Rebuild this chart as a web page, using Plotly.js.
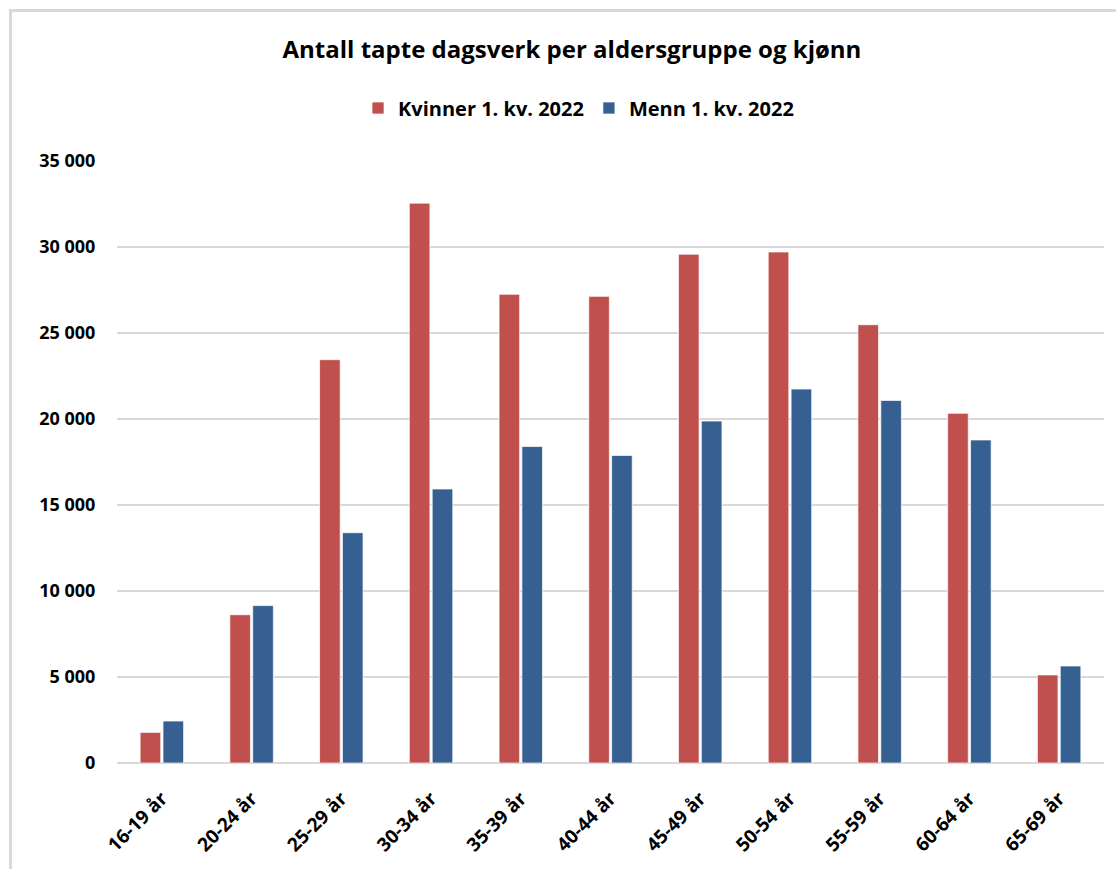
<!DOCTYPE html>
<html>
<head>
<meta charset="utf-8">
<script src="https://cdn.plot.ly/plotly-3.0.1.min.js"></script>
<style>
  html, body { margin: 0; padding: 0; background: #fff; }
  #frame { position: absolute; left: 9px; top: 9px; width: 1107px; height: 860px;
           border-top: 3px solid #d9d9d9; border-left: 3px solid #d9d9d9; }
  #chart { position: absolute; left: 0; top: 0; width: 1116px; height: 869px; }
</style>
</head>
<body>
<div id="frame"></div>
<div id="chart"></div>
<script>
const categories = ["16-19 år", "20-24 år", "25-29 år", "30-34 år", "35-39 år", "40-44 år",
                    "45-49 år", "50-54 år", "55-59 år", "60-64 år", "65-69 år"];
const kvinner = [1780, 8620, 23450, 32550, 27250, 27130, 29580, 29710, 25480, 20330, 5120];
const menn    = [2440, 9150, 13390, 15930, 18400, 17880, 19880, 21740, 21080, 18780, 5640];
const seriesNames = ["Kvinner 1. kv. 2022", "Menn 1. kv. 2022"];
const chartTitle = "Antall tapte dagsverk per aldersgruppe og kjønn";

const FONT = "'Open Sans', sans-serif";

const traces = [
  { type: "bar", name: seriesNames[0], x: categories, y: kvinner,
    marker: { color: "#C0504D", line: { color: "rgba(255,255,255,0.7)", width: 1 } },
    hoverinfo: "x+y" },
  { type: "bar", name: seriesNames[1], x: categories, y: menn,
    marker: { color: "#376092", line: { color: "rgba(255,255,255,0.7)", width: 1 } },
    hoverinfo: "x+y" }
];

const layout = {
  width: 1116, height: 869,
  paper_bgcolor: "rgba(0,0,0,0)", plot_bgcolor: "rgba(0,0,0,0)",
  margin: { l: 117, r: 12, t: 161, b: 106, pad: 0 },
  separators: ". ",
  font: { family: FONT, color: "#000" },
  title: { text: "<b>" + chartTitle + "</b>", x: 0.5125, xref: "container", xanchor: "center",
           y: 1 - 50 / 869, yref: "container", yanchor: "middle",
           font: { family: FONT, size: 24, color: "#000" } },
  showlegend: true,
  legend: { orientation: "h", x: 0.4676, xanchor: "center", y: (763 - 108) / 602, yanchor: "middle",
            font: { family: FONT, size: 20, color: "#000", weight: "bold" },
            itemwidth: 30, traceorder: "normal" },
  barmode: "group", bargap: 0.49, bargroupgap: 0.1,
  xaxis: { type: "category", tickangle: -45, showgrid: false, showline: false,
           ticks: "outside", ticklen: 16, tickcolor: "rgba(0,0,0,0)",
           tickfont: { family: FONT, size: 19, color: "#000", weight: "bold" } },
  yaxis: { range: [0, 35000], dtick: 5000, tickformat: ",d", showgrid: true,
           gridcolor: "#d9d9d9", gridwidth: 2, zeroline: true, zerolinecolor: "#d9d9d9",
           zerolinewidth: 2, showline: false, ticks: "outside", ticklen: 17, tickcolor: "rgba(0,0,0,0)",
           tickfont: { family: FONT, size: 18, color: "#000", weight: "bold" } }
};

Plotly.newPlot("chart", traces, layout, { displayModeBar: false, staticPlot: true });
</script>
</body>
</html>
